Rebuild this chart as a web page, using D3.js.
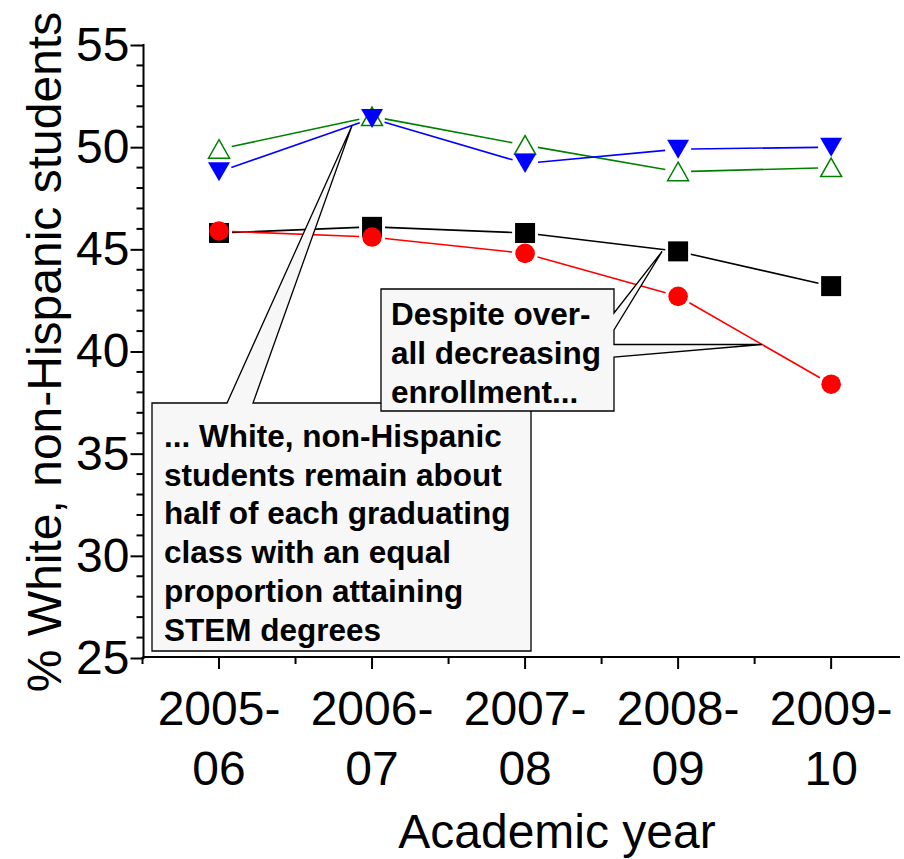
<!DOCTYPE html>
<html><head><meta charset="utf-8">
<script src="https://cdn.jsdelivr.net/npm/d3@7"></script>
<style>
html,body{margin:0;padding:0;background:#fff;}
svg{display:block;font-family:"Liberation Sans",Arial,sans-serif;}
</style></head>
<body>
<svg id="chart" width="904" height="859"></svg>
<script>
// ---- data ----
const years = ["2005-06","2006-07","2007-08","2008-09","2009-10"];
const yTicks = [25,30,35,40,45,50,55];
const blackSquares = [45.8, 46.1, 45.8, 44.9, 43.2];
const redCircles   = [45.9, 45.6, 44.8, 42.7, 38.4];
const greenTriUp   = [49.9, 51.5, 50.1, 48.8, 49.0];
const blueTriDown  = [48.8, 51.4, 49.2, 49.9, 50.0];
const note1Lines = ["Despite over-","all decreasing","enrollment..."];
const note2Lines = ["... White, non-Hispanic","students remain about","half of each graduating","class with an equal","proportion attaining","STEM degrees"];

const svg = d3.select("#chart");
const x = d3.scaleLinear().domain([-0.5, 4.45]).range([142.5, 900]);
const y = d3.scaleLinear().domain([25, 55]).range([658, 45]);

// y axis
const yMinor = d3.range(25, 55.01, 1).filter(v => v % 5 !== 0);
const yAxis = d3.axisLeft(y).tickValues(yTicks).tickSize(13).tickPadding(6).tickFormat(d3.format("d"));
const gy = svg.append("g").attr("transform","translate(143.5,0)").call(yAxis);
gy.select(".domain").attr("d", `M0,${y(25)+1}V${y(55)-1}`).attr("stroke","#000").attr("stroke-width",2);
gy.selectAll(".tick line").attr("stroke","#000").attr("stroke-width",2);
gy.selectAll(".tick text").attr("font-size",48).attr("fill","#000")
  .attr("font-family","'Liberation Sans',Arial,sans-serif").attr("x",-14);
gy.append("g").selectAll("line").data(yMinor).join("line")
  .attr("x1",0).attr("x2",-7).attr("y1",d=>y(d)).attr("y2",d=>y(d))
  .attr("stroke","#000").attr("stroke-width",2);

// x axis
const gx = svg.append("g").attr("transform",`translate(0,${657})`);
gx.append("line").attr("x1",142.5).attr("x2",900).attr("y1",0).attr("y2",0).attr("stroke","#000").attr("stroke-width",2);
const xMajor = d3.range(0,5);
const xMinor = d3.range(-0.5, 4.6, 1);
gx.selectAll("line.maj").data(xMajor).join("line").attr("class","maj")
  .attr("x1",d=>x(d)).attr("x2",d=>x(d)).attr("y1",0).attr("y2",12).attr("stroke","#000").attr("stroke-width",2);
gx.selectAll("line.min").data(xMinor).join("line").attr("class","min")
  .attr("x1",d=>x(d)).attr("x2",d=>x(d)).attr("y1",0).attr("y2",7).attr("stroke","#000").attr("stroke-width",2);
const xl = gx.selectAll("text.xl").data(years).join("text").attr("class","xl")
  .attr("text-anchor","middle").attr("font-size",48).attr("fill","#000");
xl.append("tspan").attr("x",(d,i)=>x(i)).attr("y",68).text(d=>d.split("-")[0]+"-");
xl.append("tspan").attr("x",(d,i)=>x(i)).attr("y",128).text(d=>d.split("-")[1]);

// axis titles
svg.append("text").attr("x",557).attr("y",848).attr("text-anchor","middle").attr("font-size",48).text("Academic year");
svg.append("text").attr("transform","translate(61,352) rotate(-90)").attr("text-anchor","middle").attr("font-size",48)
  .text("% White, non-Hispanic students");

// series
const series = [
  {vals: blackSquares, color:"#000", kind:"square"},
  {vals: redCircles, color:"#ff0000", kind:"circle"},
  {vals: greenTriUp, color:"#008000", kind:"up"},
  {vals: blueTriDown, color:"#0000ff", kind:"down"}
];
const gap = 13;
series.forEach(s => {
  const pts = s.vals.map((v,i)=>[x(i), y(v)]);
  const segs = d3.pairs(pts).map(([a,b])=>{
    const dx=b[0]-a[0], dy=b[1]-a[1], L=Math.hypot(dx,dy);
    const ux=dx/L, uy=dy/L;
    return [a[0]+ux*gap, a[1]+uy*gap, b[0]-ux*gap, b[1]-uy*gap];
  });
  svg.append("g").selectAll("line").data(segs).join("line")
    .attr("x1",d=>d[0]).attr("y1",d=>d[1]).attr("x2",d=>d[2]).attr("y2",d=>d[3])
    .attr("stroke",s.color).attr("stroke-width",1.6);
});
series.forEach(s => {
  const g = svg.append("g");
  s.vals.forEach((v,i)=>{
    const cx = x(i), cy = y(v);
    if (s.kind==="square") {
      g.append("rect").attr("x",cx-10).attr("y",cy-10).attr("width",20).attr("height",20).attr("fill","#000");
    } else if (s.kind==="circle") {
      g.append("circle").attr("cx",cx).attr("cy",cy).attr("r",9.8).attr("fill","#ff0000");
    } else if (s.kind==="up") {
      g.append("path").attr("d",`M${cx},${cy-9.5}L${cx+10.5},${cy+9}L${cx-10.5},${cy+9}Z`)
        .attr("fill","none").attr("stroke","#008000").attr("stroke-width",1.5);
    } else {
      g.append("path").attr("d",`M${cx-11},${cy-9.5}L${cx+11},${cy-9.5}L${cx},${cy+9.5}Z`).attr("fill","#0000ff");
    }
  });
});

// callout 2 (drawn first, below callout 1)
const tip2 = [x(1)-20, y(blueTriDown[1])+7];
svg.append("path")
  .attr("d",`M152,403L227,403L${tip2[0]},${tip2[1]}L253,403L531,403L531,651L152,651Z`)
  .attr("fill","#f7f7f7").attr("stroke","#000").attr("stroke-width",1.3);
svg.append("g").selectAll("text").data(note2Lines).join("text")
  .attr("x",164).attr("y",(d,i)=>447+i*38.7).attr("font-size",31.5).attr("font-weight","bold").text(d=>d);

// callout 1
const tipA = [x(3)-16, y(blackSquares[3])];
const tipB = [762, y(redCircles[3]) + (y(redCircles[4])-y(redCircles[3]))*(762-x(3))/(x(4)-x(3))];
svg.append("path")
  .attr("d",`M381,289L614,289L614,313L${tipA[0]},${tipA[1]}L614,330L614,${tipB[1]}L${tipB[0]},${tipB[1]}L614,357L614,411L381,411Z`)
  .attr("fill","#f7f7f7").attr("stroke","#000").attr("stroke-width",1.3);
svg.append("g").selectAll("text").data(note1Lines).join("text")
  .attr("x",391).attr("y",(d,i)=>325+i*39).attr("font-size",31.5).attr("font-weight","bold").text(d=>d);
</script>
</body></html>
